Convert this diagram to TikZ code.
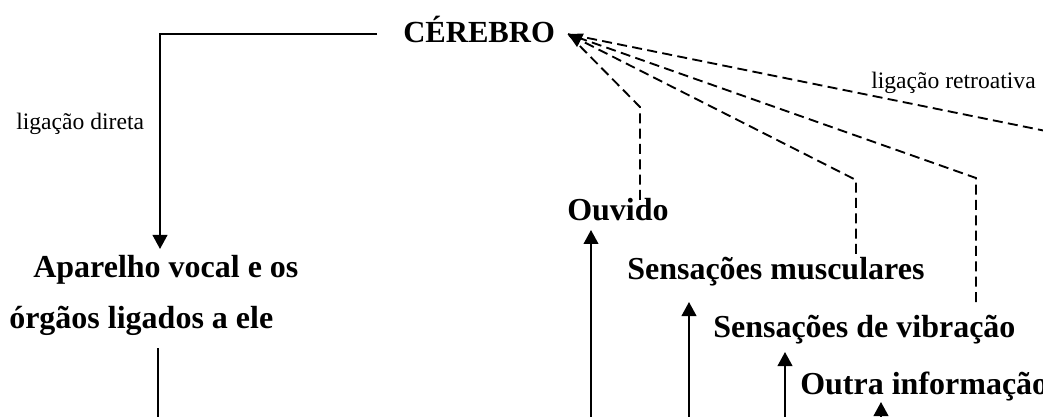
\documentclass[tikz,border=0pt]{standalone}
\usepackage{fontspec}
\setmainfont{Liberation Serif}
\usetikzlibrary{arrows.meta}
\begin{document}
\begin{tikzpicture}[x=0.75pt,y=-0.75pt,
  lbl/.style={anchor=base west,inner sep=0pt,font=\fontsize{24}{28}\selectfont\bfseries},
  note/.style={anchor=base west,inner sep=0pt,font=\fontsize{17.7}{21}\selectfont},
  conn/.style={line width=1.4pt},
  fb/.style={conn,dash pattern=on 7.5pt off 4pt},
  tipd/.style={-{Triangle[length=10.5pt,width=11pt]}}]
\useasboundingbox (0,0) rectangle (1043,417);
\clip (0,0) rectangle (1043,417);
% labels
\node[lbl,font=\fontsize{23}{27}\selectfont\bfseries] (cer) at (403,43) {CÉREBRO};
\node[note] (ldir) at (16,130) {ligação direta};
\node[note] (lret) at (871,89) {ligação retroativa};
\node[lbl] (ouv) at (567,221) {Ouvido};
\node[lbl] (apa1) at (33,277) {Aparelho vocal e os};
\node[lbl] (apa2) at (9,328) {órgãos ligados a ele};
\node[lbl] (mus) at (627,280) {Sensações musculares};
\node[lbl] (vib) at (713,337) {Sensações de vibração};
\node[lbl] (out) at (800,394) {Outra informação};
% coordinates
\coordinate (cw) at (377,34);
\coordinate (corner) at (160,34);
\coordinate (apaTop) at (160,249);
\coordinate (apaBot) at (158,348);
\coordinate (apaDown) at (158,440);
\coordinate (ce) at (568,34);
\coordinate (k1) at (640,107);
\coordinate (e1) at (640,200);
\coordinate (k2) at (856,180);
\coordinate (e2) at (856,254);
\coordinate (k3) at (976,178);
\coordinate (e3) at (976,302);
\coordinate (k4) at (1100,142);
\coordinate (e4) at (1100,380);
\coordinate (a1s) at (591,440);
\coordinate (a1e) at (591,230);
\coordinate (a2s) at (689,440);
\coordinate (a2e) at (689,302);
\coordinate (a3s) at (785,440);
\coordinate (a3e) at (785,352);
\coordinate (a4s) at (881,440);
\coordinate (a4e) at (881,402);
% direct link
\draw[conn,tipd] (cw) -- (corner) -- (apaTop);
\draw[conn] (apaBot) -- (apaDown);
% upward arrows
\draw[conn,tipd] (a1s) -- (a1e);
\draw[conn,tipd] (a2s) -- (a2e);
\draw[conn,tipd] (a3s) -- (a3e);
\draw[conn,tipd] (a4s) -- (a4e);
% feedback lines
\draw[fb] (e1) -- (k1) -- (ce);
\draw[fb,tipd] (e2) -- (k2) -- (ce);
\draw[fb] (e3) -- (k3) -- (ce);
\draw[fb] (e4) -- (k4) -- (ce);
\end{tikzpicture}
\end{document}
